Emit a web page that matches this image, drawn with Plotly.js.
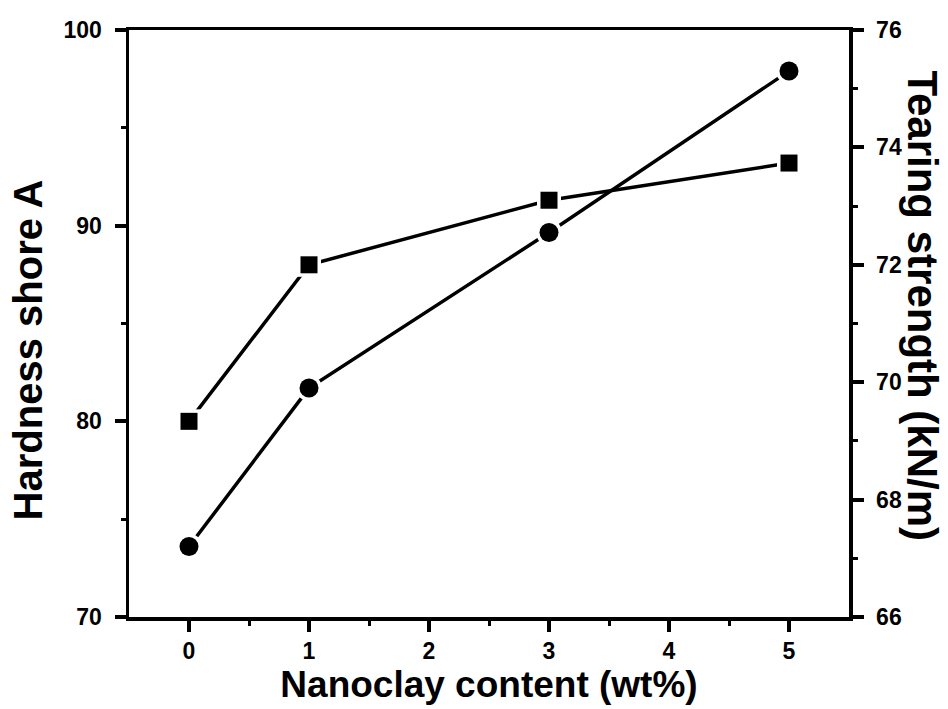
<!DOCTYPE html>
<html>
<head>
<meta charset="utf-8">
<script src="https://cdn.plot.ly/plotly-3.0.1.min.js"></script>
<style>html,body{margin:0;padding:0;background:#fff;}#chart{width:948px;height:709px;}</style>
</head>
<body>
<div id="chart"></div>
<script>
const nanoclay = [0, 1, 3, 5];
const hardness = [80, 88, 91.3, 93.2];
const tearing = [67.2, 69.9, 72.55, 75.3];
const xTicks = [0, 1, 2, 3, 4, 5];
const hardnessTicks = [70, 80, 90, 100];
const tearingTicks = [66, 68, 70, 72, 74, 76];

const FONT = 'Liberation Sans, Arial, Helvetica, sans-serif';
const lineW = 3.5;
const bold = v => '<b>' + v + '</b>';

const traces = [
  {x: nanoclay, y: hardness, mode: 'lines', line: {color: '#000', width: lineW}, yaxis: 'y', hoverinfo: 'skip', showlegend: false},
  {x: nanoclay, y: tearing, mode: 'lines', line: {color: '#000', width: lineW}, yaxis: 'y2', hoverinfo: 'skip', showlegend: false},
  {x: nanoclay, y: hardness, mode: 'markers', marker: {symbol: 'square', size: 24, color: '#fff'}, yaxis: 'y', hoverinfo: 'skip', showlegend: false},
  {x: nanoclay, y: tearing, mode: 'markers', marker: {symbol: 'circle', size: 26, color: '#fff'}, yaxis: 'y2', hoverinfo: 'skip', showlegend: false},
  {x: nanoclay, y: hardness, mode: 'markers', name: 'Hardness', marker: {symbol: 'square', size: 17, color: '#000'}, yaxis: 'y', showlegend: false},
  {x: nanoclay, y: tearing, mode: 'markers', name: 'Tearing strength', marker: {symbol: 'circle', size: 19, color: '#000'}, yaxis: 'y2', showlegend: false}
];

const tickFont = {family: FONT, size: 23, color: '#000'};

const layout = {
  width: 948, height: 709,
  margin: {l: 129, r: 99, t: 30, b: 92, pad: 0},
  paper_bgcolor: '#fff', plot_bgcolor: '#fff',
  showlegend: false,
  xaxis: {
    range: [-0.5, 5.5], tickvals: xTicks, ticktext: xTicks.map(bold),
    showgrid: false, zeroline: false,
    showline: true, linecolor: '#000', linewidth: 3.5, mirror: true,
    ticks: 'outside', ticklen: 11, tickwidth: 4, tickcolor: '#000',
    minor: {tickvals: [0.5, 1.5, 2.5, 3.5, 4.5], ticks: 'outside', ticklen: 5, tickwidth: 3, tickcolor: '#000', showgrid: false},
    tickfont: tickFont, ticklabelstandoff: 0,
    title: {text: '<b>Nanoclay content (wt%)</b>', font: {family: FONT, size: 37, color: '#000'}, standoff: 2},
    automargin: false
  },
  yaxis: {
    range: [70, 100], tickvals: hardnessTicks, ticktext: hardnessTicks.map(bold),
    showgrid: false, zeroline: false,
    showline: true, linecolor: '#000', linewidth: 3.5, mirror: false,
    ticks: 'outside', ticklen: 11, tickwidth: 4, tickcolor: '#000',
    minor: {tickvals: [75, 85, 95], ticks: 'outside', ticklen: 5, tickwidth: 3, tickcolor: '#000', showgrid: false},
    tickfont: tickFont, ticklabelstandoff: 8,
    automargin: false
  },
  yaxis2: {
    overlaying: 'y', side: 'right',
    range: [66, 76], tickvals: tearingTicks, ticktext: tearingTicks.map(bold),
    showgrid: false, zeroline: false,
    showline: true, linecolor: '#000', linewidth: 3.5,
    ticks: 'outside', ticklen: 11, tickwidth: 4, tickcolor: '#000',
    minor: {tickvals: [67, 69, 71, 73, 75], ticks: 'outside', ticklen: 5, tickwidth: 3, tickcolor: '#000', showgrid: false},
    tickfont: tickFont, ticklabelstandoff: 8,
    automargin: false
  },
  annotations: [
    {text: '<b>Hardness shore A</b>', xref: 'paper', yref: 'paper', x: -0.141, y: 0.455,
     xanchor: 'center', yanchor: 'middle', textangle: -90, showarrow: false,
     font: {family: FONT, size: 40, color: '#000'}},
    {text: '<b>Tearing strength (kN/m)</b>', xref: 'paper', yref: 'paper', x: 1.102, y: 0.53,
     xanchor: 'center', yanchor: 'middle', textangle: 90, showarrow: false,
     font: {family: FONT, size: 42, color: '#000'}}
  ]
};

Plotly.newPlot('chart', traces, layout, {displayModeBar: false, staticPlot: true});
</script>
</body>
</html>
